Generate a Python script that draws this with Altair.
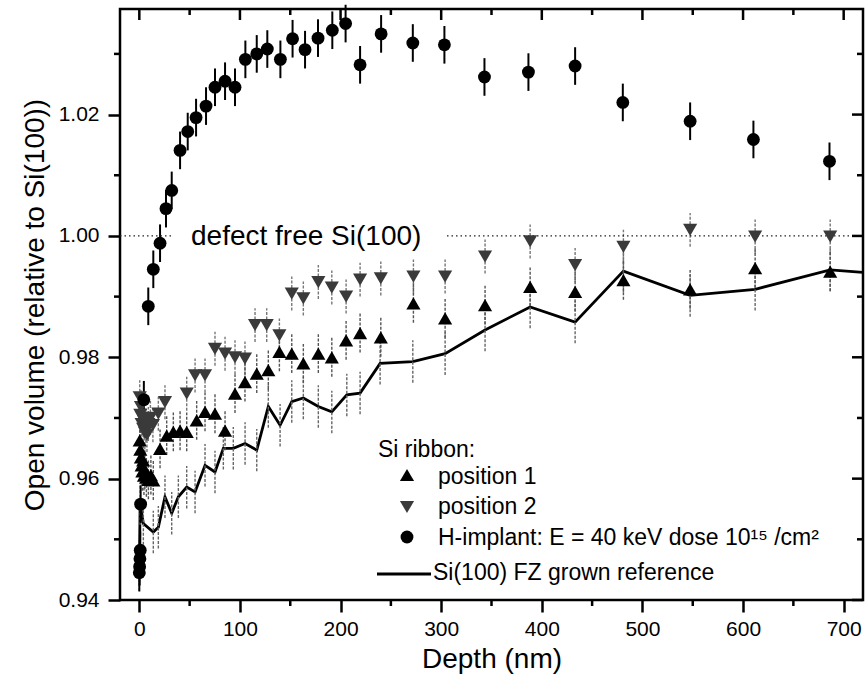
import altair as alt
import pandas as pd

# ---------------- data ----------------
# H-implant: E = 40 keV dose 1e15 /cm2  (circles)
h_depth = [0.0, 0.3, 0.6, 0.9, 1.3, 4.5, 8.9, 13.9, 20.6, 26.5, 32.2, 40.5, 48.1, 56.4,
           66.3, 75.2, 85.2, 95.1, 105.4, 116.7, 127.2, 140.2, 152.3, 164.7, 177.6,
           191.8, 205.0, 219.4, 240.3, 271.8, 303.2, 343.0, 386.7, 433.1, 480.5,
           547.4, 610.3, 685.9]
h_value = [0.9445, 0.9455, 0.9468, 0.9482, 0.9558, 0.9730, 0.9884, 0.9945, 0.9988,
           1.0045, 1.0075, 1.0141, 1.0172, 1.0195, 1.0214, 1.0245, 1.0255, 1.0245,
           1.0291, 1.0300, 1.0308, 1.0291, 1.0325, 1.0307, 1.0326, 1.0339, 1.0350,
           1.0282, 1.0333, 1.0318, 1.0315, 1.0262, 1.0270, 1.0280, 1.0220, 1.0189,
           1.0159, 1.0123]
h_err = 0.0031

# Si ribbon position 1 (up triangles)
p1_depth = [0.4, 1.0, 1.6, 2.3, 3.0, 3.8, 4.6, 5.5, 7.0, 9.0, 11.5, 13.9, 20.6, 27.2,
            33.8, 40.5, 47.1, 57.0, 65.3, 75.2, 85.2, 95.1, 105.0, 116.7, 128.2, 139.2,
            151.5, 163.0, 177.9, 191.3, 205.5, 219.4, 240.0, 272.4, 303.9, 343.6,
            388.4, 433.1, 481.1, 547.4, 612.0, 686.6]
p1_value = [0.9663, 0.9648, 0.9635, 0.9622, 0.9612, 0.9630, 0.9605, 0.9615, 0.9602,
            0.9598, 0.9606, 0.9597, 0.9649, 0.9671, 0.9677, 0.9679, 0.9677, 0.9696,
            0.9710, 0.9707, 0.9679, 0.9740, 0.9759, 0.9773, 0.9779, 0.9809, 0.9806,
            0.9790, 0.9806, 0.9800, 0.9828, 0.9840, 0.9833, 0.9889, 0.9864, 0.9886,
            0.9916, 0.9908, 0.9927, 0.9912, 0.9947, 0.9941]
p1_err = 0.0032

# Si ribbon position 2 (down triangles)
p2_depth = [0.4, 1.0, 1.6, 2.3, 3.0, 3.8, 4.6, 5.5, 6.5, 7.6, 9.0, 11.0, 13.5, 18.9,
            25.5, 47.1, 55.4, 65.3, 75.2, 85.2, 95.1, 105.0, 115.0, 126.6, 139.2,
            151.5, 163.0, 177.9, 191.3, 205.5, 219.4, 240.0, 272.4, 303.9, 343.6,
            388.4, 433.1, 481.1, 547.4, 612.0, 686.6]
p2_value = [0.9734, 0.9705, 0.9718, 0.9690, 0.9700, 0.9682, 0.9695, 0.9676, 0.9688,
            0.9672, 0.9690, 0.9700, 0.9688, 0.9707, 0.9726, 0.9740, 0.9770, 0.9770,
            0.9814, 0.9806, 0.9800, 0.9798, 0.9853, 0.9853, 0.9836, 0.9905, 0.9897,
            0.9924, 0.9915, 0.9900, 0.9928, 0.9930, 0.9933, 0.9933, 0.9966, 0.9991,
            0.9952, 0.9982, 1.0010, 0.9999, 0.9999]
p2_err = 0.0028

# Si(100) FZ grown reference (line)
ref_depth = [0.0, 0.8, 4.0, 13.9, 18.9, 25.5, 32.2, 38.8, 47.1, 55.4, 65.3, 75.2, 83.5,
             93.4, 105.1, 116.7, 128.2, 139.9, 151.5, 163.0, 177.9, 191.3, 206.2,
             219.4, 239.3, 271.8, 303.9, 343.6, 388.4, 433.1, 481.1, 547.4, 612.0,
             686.6, 719.0]
ref_value = [0.9450, 0.9559, 0.9526, 0.9512, 0.9520, 0.9570, 0.9543, 0.9570, 0.9586,
             0.9578, 0.9622, 0.9611, 0.9650, 0.9650, 0.9658, 0.9647, 0.9719, 0.9688,
             0.9727, 0.9733, 0.9719, 0.9710, 0.9738, 0.9741, 0.9790, 0.9793, 0.9806,
             0.9845, 0.9883, 0.9858, 0.9942, 0.9902, 0.9912, 0.9944, 0.9940]
ref_err = 0.0035

x_major = [0, 100, 200, 300, 400, 500, 600, 700]
x_minor = [50, 150, 250, 350, 450, 550, 650]
y_major = [0.94, 0.96, 0.98, 1.00, 1.02]
y_minor = [0.95, 0.97, 0.99, 1.01, 1.03]

legend_title = "Si ribbon:"
legend_labels = ["position 1", "position 2",
                 "H-implant: E = 40 keV dose 10\u00b9\u2075 /cm\u00b2",
                 "Si(100) FZ grown reference"]
ref_label = "defect free Si(100)"

# ---------------- layout ----------------
W, H = 743, 591
FONT = "Liberation Sans"
xs = alt.Scale(domain=[-19.2, 719.2], nice=False, zero=False)
ys = alt.Scale(domain=[0.94, 1.0374], nice=False, zero=False)

AX = alt.Axis(values=x_major, format="d", title="Depth (nm)", grid=False,
              domain=False, tickSize=12, tickWidth=2.5, tickColor="black",
              labelFont=FONT, labelFontSize=21, labelColor="black",
              labelPadding=6, titleFont=FONT, titleFontSize=28,
              titleFontWeight="normal", titleColor="black", titlePadding=6,
              labelFlush=False)
AY = alt.Axis(values=y_major, format=".2f",
              title="Open volume (relative to Si(100))", grid=False,
              domain=False, tickSize=12, tickWidth=2.5, tickColor="black",
              labelFont=FONT, labelFontSize=21, labelColor="black",
              labelPadding=9, titleFont=FONT, titleFontSize=28,
              titleFontWeight="normal", titleColor="black", titlePadding=9,
              labelFlush=False)


def frame(d, v, e):
    df = pd.DataFrame({"depth": d, "v": v})
    df["lo"] = df["v"] - e
    df["hi"] = df["v"] + e
    return df


h_df = frame(h_depth, h_value, h_err)
p1_df = frame(p1_depth, p1_value, p1_err)
p2_df = frame(p2_depth, p2_value, p2_err)
ref_df = frame(ref_depth, ref_value, ref_err)

X = lambda f="depth": alt.X(f"{f}:Q", scale=xs, axis=AX, title="Depth (nm)")
Y = lambda f="v": alt.Y(f"{f}:Q", scale=ys, axis=AY, title="Open volume (relative to Si(100))")

# error bars
err_tri1 = alt.Chart(p1_df).mark_rule(color="#555", strokeWidth=1.4, strokeDash=[3, 1.5]).encode(
    x=X(), y=Y("lo"), y2="hi:Q")
err_tri2 = alt.Chart(p2_df).mark_rule(color="#777", strokeWidth=1.4, strokeDash=[3, 1.5]).encode(
    x=X(), y=Y("lo"), y2="hi:Q")
err_ref = alt.Chart(ref_df[ref_df["depth"] < 700]).mark_rule(
    color="#666", strokeWidth=1.4, strokeDash=[3, 1.5]).encode(
    x=X(), y=Y("lo"), y2="hi:Q")
err_h = alt.Chart(h_df).mark_rule(color="black", strokeWidth=2).encode(
    x=X(), y=Y("lo"), y2="hi:Q")

ref_line = alt.Chart(ref_df).mark_line(color="black", strokeWidth=2.8).encode(
    x=X(), y=Y(), order="depth:Q")

pts_p1 = alt.Chart(p1_df).mark_point(shape="triangle-up", filled=True, size=200,
                                     color="black", opacity=1).encode(x=X(), y=Y())
pts_p2 = alt.Chart(p2_df).mark_point(shape="triangle-down", filled=True, size=200,
                                     color="#3a3a3a", opacity=1).encode(x=X(), y=Y())
pts_h = alt.Chart(h_df).mark_point(shape="circle", filled=True, size=165,
                                   color="black", opacity=1).encode(x=X(), y=Y())

# minor ticks and mirrored ticks
tick_style = dict(color="black", strokeWidth=2.5)
xmaj = pd.DataFrame({"depth": x_major})
xmin = pd.DataFrame({"depth": x_minor})
ymaj = pd.DataFrame({"v": y_major})
ymin = pd.DataFrame({"v": y_minor})
ticks = [
    alt.Chart(xmin).mark_rule(**tick_style).encode(x=X(), y=alt.value(H), y2=alt.value(H + 6)),
    alt.Chart(xmaj).mark_rule(**tick_style).encode(x=X(), y=alt.value(0), y2=alt.value(11)),
    alt.Chart(xmin).mark_rule(**tick_style).encode(x=X(), y=alt.value(0), y2=alt.value(6)),
    alt.Chart(ymin).mark_rule(**tick_style).encode(y=Y(), x=alt.value(-6), x2=alt.value(0)),
    alt.Chart(ymaj).mark_rule(**tick_style).encode(y=Y(), x=alt.value(W - 11), x2=alt.value(W)),
    alt.Chart(ymin).mark_rule(**tick_style).encode(y=Y(), x=alt.value(W - 6), x2=alt.value(W)),
]

# dotted "defect free" reference level
one = pd.DataFrame({"v": [1.0], "label": [ref_label]})
dot_style = dict(color="#222", strokeWidth=1.3, strokeDash=[1.5, 3])
dotted = [
    alt.Chart(one).mark_rule(**dot_style).encode(y=Y(), x=alt.value(0), x2=alt.value(52)),
    alt.Chart(one).mark_rule(**dot_style).encode(y=Y(), x=alt.value(327), x2=alt.value(W)),
]
dot_text = alt.Chart(one).mark_text(
    font=FONT, fontSize=28, align="left", baseline="middle", color="black", dy=1).encode(
    y=Y(), x=alt.value(71), text="label:N")

# manual legend (pixel placement)
leg = []
txt_pos = [(258, 441), (318, 468), (318, 498), (318, 529), (313, 564)]
for label, (px, py) in zip([legend_title] + legend_labels, txt_pos):
    leg.append(alt.Chart(pd.DataFrame({"label": [label]})).mark_text(
        font=FONT, fontSize=23, align="left", baseline="middle", color="black").encode(
        x=alt.value(px), y=alt.value(py), text="label:N"))
sym = [("triangle-up", "black", 200, 466), ("triangle-down", "#3a3a3a", 200, 498),
       ("circle", "black", 165, 528)]
for shp, col, sz, py in sym:
    leg.append(alt.Chart(pd.DataFrame({"k": [shp]})).mark_point(
        shape=shp, filled=True, color=col, size=sz, opacity=1).encode(
        x=alt.value(287), y=alt.value(py)))
leg.append(alt.Chart(pd.DataFrame({"k": ["line"]})).mark_rule(
    color="black", strokeWidth=2.8).encode(x=alt.value(257), x2=alt.value(311), y=alt.value(565)))

chart = alt.layer(
    ref_line, err_ref, err_tri2, err_tri1, err_h, *dotted, dot_text,
    pts_p2, pts_p1, pts_h, *ticks, *leg,
).properties(
    width=W, height=H,
    padding={"left": 120, "top": 9, "right": 4, "bottom": 85},
    autosize=alt.AutoSizeParams(type="none"),
    background="white",
).configure_view(stroke="black", strokeWidth=2.5)

chart.save("out.html", embed_options={"renderer": "svg", "actions": False})
